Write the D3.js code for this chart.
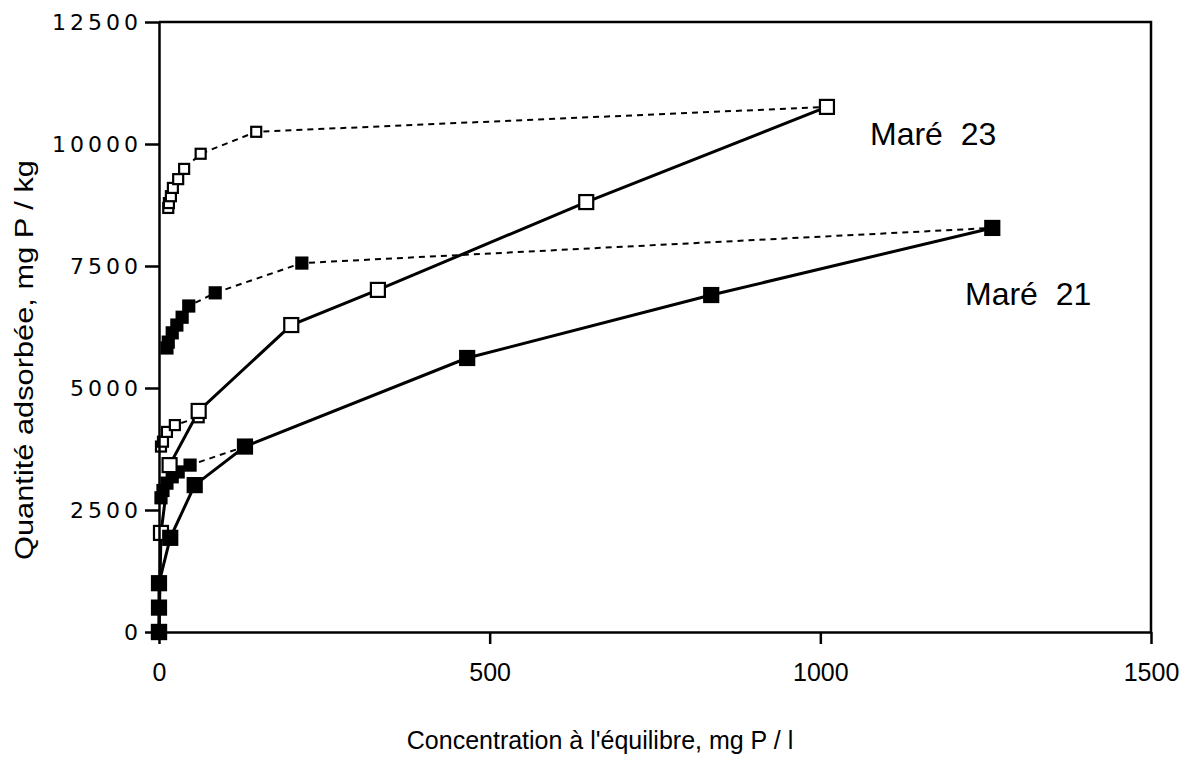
<!DOCTYPE html>
<html>
<head>
<meta charset="utf-8">
<script src="https://cdn.jsdelivr.net/npm/d3@7"></script>
<style>
  body { margin: 0; background: #fff; }
  svg { display: block; }
</style>
</head>
<body>
<div class="graph-container"></div>
<script>
// axis ticks
const xTicks = [0, 500, 1000, 1500];
const yTicks = [0, 2500, 5000, 7500, 10000, 12500];

// Maré 23, solid curve (open squares)
const m23SolidX = [0, 3, 16, 60, 200, 331, 646, 1010];
const m23SolidY = [0, 2030, 3420, 4530, 6290, 7010, 8810, 10760];
// Maré 23, dashed curves (small open squares)
const m23DashHighX = [14, 15, 18, 21, 29, 38, 63, 147, 1010];
const m23DashHighY = [8690, 8790, 8930, 9100, 9280, 9490, 9800, 10250, 10760];
const m23DashLowX = [3, 6, 12, 24, 60];
const m23DashLowY = [3800, 3900, 4100, 4240, 4400];

// Maré 21, solid curve (filled squares)
const m21SolidX = [0, 0, 0, 17, 54, 130, 466, 835, 1260];
const m21SolidY = [0, 500, 1000, 1930, 3010, 3800, 5615, 6905, 8280];
// Maré 21, dashed curves (small filled squares)
const m21DashHighX = [12, 14, 20, 27, 35, 45, 85, 216, 1260];
const m21DashHighY = [5820, 5940, 6130, 6290, 6450, 6680, 6950, 7560, 8280];
const m21DashLowX = [3, 6, 12, 20, 29, 47, 130];
const m21DashLowY = [2750, 2900, 3050, 3180, 3280, 3420, 3800];

// graph constants
const w = 1198;
const h = 759;
const padL = 159, padR = 1151, padT = 22, padB = 632;

const svg = d3.select('.graph-container')
    .append('svg')
    .attr('width', w)
    .attr('height', h);

const xScale = d3.scaleLinear().domain([0, 1500]).range([padL, padR]);
const yScale = d3.scaleLinear().domain([0, 12500]).range([padB, padT]);

const zip = (xs, ys) => xs.map((x, i) => [x, ys[i]]);
const line = d3.line().x(d => xScale(d[0])).y(d => yScale(d[1]));

// series: data, line style, marker size, filled?
const series = [
    { pts: zip(m23DashHighX, m23DashHighY), dash: '6,5', lw: 2, size: 10, fill: false },
    { pts: zip(m23DashLowX, m23DashLowY), dash: '6,5', lw: 2, size: 10, fill: false },
    { pts: zip(m21DashHighX, m21DashHighY), dash: '6,5', lw: 2, size: 11, fill: true },
    { pts: zip(m21DashLowX, m21DashLowY), dash: '6,5', lw: 2, size: 11, fill: true },
    { pts: zip(m23SolidX, m23SolidY), dash: null, lw: 3, size: 14, fill: false },
    { pts: zip(m21SolidX, m21SolidY), dash: null, lw: 3, size: 14, fill: true }
];

// lines first
series.forEach(s => {
    svg.append('path')
        .attr('d', line(s.pts))
        .attr('fill', 'none')
        .attr('stroke', '#000')
        .attr('stroke-width', s.lw)
        .attr('stroke-dasharray', s.dash);
});

// then markers
series.forEach(s => {
    svg.append('g').selectAll('rect')
        .data(s.pts)
        .enter()
        .append('rect')
        .attr('x', d => xScale(d[0]) - s.size / 2)
        .attr('y', d => yScale(d[1]) - s.size / 2)
        .attr('width', s.size)
        .attr('height', s.size)
        .attr('fill', s.fill ? '#000' : '#fff')
        .attr('stroke', '#000')
        .attr('stroke-width', 2.2);
});

// frame (top and right)
svg.append('path')
    .attr('d', `M${padL},${padT}H${padR}V${padB}`)
    .attr('fill', 'none')
    .attr('stroke', '#000')
    .attr('stroke-width', 2.5);

// axes
const xAxis = d3.axisBottom(xScale).tickValues(xTicks).tickFormat(d3.format('d'))
    .tickSize(12).tickSizeOuter(0).tickPadding(19);
const yAxis = d3.axisLeft(yScale).tickValues(yTicks).tickFormat(d3.format('d'))
    .tickSize(14).tickSizeOuter(0).tickPadding(3);

const gx = svg.append('g')
    .attr('transform', `translate(0, ${padB})`)
    .call(xAxis);
gx.selectAll('text')
    .attr('font-family', 'Liberation Sans, Arial, sans-serif')
    .attr('font-size', 25)
    .attr('fill', '#000');

const gy = svg.append('g')
    .attr('transform', `translate(${padL}, 0)`)
    .call(yAxis);
gy.selectAll('text')
    .attr('font-family', 'DejaVu Sans, sans-serif')
    .attr('font-size', 22)
    .attr('letter-spacing', 4)
    .attr('fill', '#000');

[gx, gy].forEach(g => {
    g.selectAll('path, line').attr('stroke', '#000').attr('stroke-width', 2.5);
});

// axis titles
svg.append('text')
    .text("Concentration à l'équilibre, mg P / l")
    .attr('x', 600)
    .attr('y', 749)
    .attr('text-anchor', 'middle')
    .attr('font-family', 'Liberation Sans, Arial, sans-serif')
    .attr('font-size', 25);

svg.append('text')
    .text('Quantité adsorbée, mg P / kg')
    .attr('transform', 'translate(33, 360) rotate(-90)')
    .attr('text-anchor', 'middle')
    .attr('font-family', 'Liberation Sans, Arial, sans-serif')
    .attr('font-size', 26)
    .attr('textLength', 400)
    .attr('lengthAdjust', 'spacingAndGlyphs');

// series labels
svg.append('text')
    .text('Maré  23')
    .attr('x', 870)
    .attr('y', 145)
    .style('white-space', 'pre')
    .attr('font-family', 'Liberation Sans, Arial, sans-serif')
    .attr('font-size', 32);

svg.append('text')
    .text('Maré  21')
    .attr('x', 965)
    .attr('y', 305)
    .style('white-space', 'pre')
    .attr('font-family', 'Liberation Sans, Arial, sans-serif')
    .attr('font-size', 32);
</script>
</body>
</html>
